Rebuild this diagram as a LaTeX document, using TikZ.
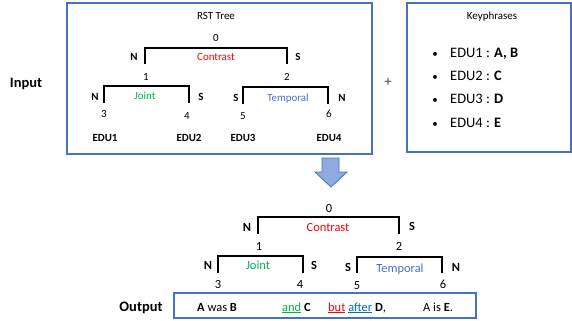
\documentclass[tikz,border=0pt]{standalone}
\usepackage{fontspec}
\setmainfont{Carlito}
\usetikzlibrary{shapes.arrows}
\definecolor{boxblue}{HTML}{4472C4}
\definecolor{arrowfill}{HTML}{8FAADC}
\definecolor{cred}{HTML}{FF0000}
\definecolor{cgreen}{HTML}{00B050}
\definecolor{ctemp}{HTML}{4472C4}
\definecolor{cafter}{HTML}{0070C0}
\tikzset{
  frame/.style={draw=boxblue, line width=1.2bp},
  br/.style={draw=black, line width=1.4bp},
  lbl/.style={inner sep=0pt, anchor=base},
  ut/.style={lbl, font=\fontsize{11}{13}\selectfont},
  utb/.style={lbl, font=\fontsize{11}{13}\selectfont\bfseries},
  lt/.style={lbl, font=\fontsize{12.5}{15}\selectfont},
  ltb/.style={lbl, font=\fontsize{12.5}{15}\selectfont\bfseries},
  big/.style={lbl, font=\fontsize{14.5}{17}\selectfont},
  bigb/.style={lbl, font=\fontsize{14.5}{17}\selectfont\bfseries},
  bul/.style={lbl, font=\fontsize{11}{13}\selectfont},
  outt/.style={inner sep=0pt, anchor=base west, font=\fontsize{12.5}{15}\selectfont},
}
\begin{document}
\begin{tikzpicture}[x=1bp,y=-1bp]
\useasboundingbox (0,0) rectangle (572,320);
% boxes
\draw[frame] (67,3) rectangle (372,154);
\draw[frame] (407,3) rectangle (571,152);
\draw[frame] (174,293) rectangle (476,318);
% labels
\node[bigb] (input) at (26,87) {Input};
\node[bigb] (output) at (141,311) {Output};
\node[lbl, font=\fontsize{15}{17}\selectfont, text=black!70] (plus) at (388,86) {+};
% upper tree
\node[ut] (rst) at (216,19) {RST Tree};
\node[ut] (u0) at (216,41) {0};
\coordinate (ua1) at (145,64); \coordinate (ua2) at (145,48);
\coordinate (ua3) at (287,48); \coordinate (ua4) at (287,64);
\draw[br] (ua1) -- (ua2) -- (ua3) -- (ua4);
\node[utb] (uN0) at (134,60) {N};
\node[utb] (uS0) at (298,60) {S};
\node[ut, text=cred] (ucon) at (216,60) {Contrast};
\node[ut] (u1) at (146,80) {1};
\node[ut] (u2) at (287,80) {2};
\coordinate (ub1) at (104,103); \coordinate (ub2) at (104,86);
\coordinate (ub3) at (189,86); \coordinate (ub4) at (189,103);
\draw[br] (ub1) -- (ub2) -- (ub3) -- (ub4);
\node[utb] (uN1) at (95,100) {N};
\node[utb] (uS1) at (201,100) {S};
\node[ut, text=cgreen] (ujoint) at (145,99) {Joint};
\coordinate (uc1) at (243,104); \coordinate (uc2) at (243,87);
\coordinate (uc3) at (328,87); \coordinate (uc4) at (328,104);
\draw[br] (uc1) -- (uc2) -- (uc3) -- (uc4);
\node[utb] (uS2) at (236,101) {S};
\node[utb] (uN2) at (342,101) {N};
\node[ut, text=ctemp] (utemp) at (288,101) {Temporal};
\node[ut] (u3) at (104,117) {3};
\node[ut] (u4) at (187,119) {4};
\node[ut] (u5) at (243,119) {5};
\node[ut] (u6) at (329,117) {6};
\node[utb] (e1) at (105,141) {EDU1};
\node[utb] (e2) at (189,141) {EDU2};
\node[utb] (e3) at (243,141) {EDU3};
\node[utb] (e4) at (329,141) {EDU4};
% keyphrases
\node[ut] (kp) at (492,19) {Keyphrases};
\node[bul] (b1) at (435,57) {•};
\node[bul] (b2) at (435,80) {•};
\node[bul] (b3) at (435,103) {•};
\node[bul] (b4) at (435,127) {•};
\node[big, anchor=base west] (k1) at (450,57) {EDU1 : \textbf{A, B}};
\node[big, anchor=base west] (k2) at (450,80) {EDU2 : \textbf{C}};
\node[big, anchor=base west] (k3) at (450,103) {EDU3 : \textbf{D}};
\node[big, anchor=base west] (k4) at (450,127) {EDU4 : \textbf{E}};
% arrow
\coordinate (ar1) at (322,158); \coordinate (ar2) at (339,158);
\coordinate (ar3) at (339,172); \coordinate (ar4) at (347,172);
\coordinate (ar5) at (331,187); \coordinate (ar6) at (315,172);
\coordinate (ar7) at (322,172);
\draw[draw=boxblue, fill=arrowfill, line width=0.8bp, line join=miter]
  (ar1) -- (ar2) -- (ar3) -- (ar4) -- (ar5) -- (ar6) -- (ar7) -- cycle;
% lower tree
\node[lt] (l0) at (329,212) {0};
\coordinate (la1) at (258,234); \coordinate (la2) at (258,217);
\coordinate (la3) at (399,217); \coordinate (la4) at (399,234);
\draw[br] (la1) -- (la2) -- (la3) -- (la4);
\node[ltb] (lN0) at (247,231) {N};
\node[ltb] (lS0) at (412,230) {S};
\node[lt, text=cred] (lcon) at (328,231) {Contrast};
\node[lt] (l1) at (259,250) {1};
\node[lt] (l2) at (399,250) {2};
\coordinate (lb1) at (218,273); \coordinate (lb2) at (218,256);
\coordinate (lb3) at (303,256); \coordinate (lb4) at (303,273);
\draw[br] (lb1) -- (lb2) -- (lb3) -- (lb4);
\node[ltb] (lN1) at (208,269) {N};
\node[ltb] (lS1) at (314,269) {S};
\node[lt, text=cgreen] (ljoint) at (258,269) {Joint};
\coordinate (lc1) at (357,273); \coordinate (lc2) at (357,257);
\coordinate (lc3) at (442,257); \coordinate (lc4) at (442,273);
\draw[br] (lc1) -- (lc2) -- (lc3) -- (lc4);
\node[ltb] (lS2) at (348,271) {S};
\node[ltb] (lN2) at (456,271) {N};
\node[lt, text=ctemp] (ltemp) at (400,272) {Temporal};
\node[lt] (l3) at (218,288) {3};
\node[lt] (l4) at (300,288) {4};
\node[lt] (l5) at (357,289) {5};
\node[lt] (l6) at (443,288) {6};
% output text
\node[outt] (o1) at (197,311) {\textbf{A} was \textbf{B}};
\node[outt] (o2) at (282,311) {\textcolor{cgreen}{\underline{and}} \textbf{C}};
\node[outt] (o3) at (328,311) {\textcolor{cred}{\underline{but}} \textcolor{cafter}{\underline{after}} \textbf{D},};
\node[outt] (o4) at (423,311) {A is \textbf{E}.};
\end{tikzpicture}
\end{document}
